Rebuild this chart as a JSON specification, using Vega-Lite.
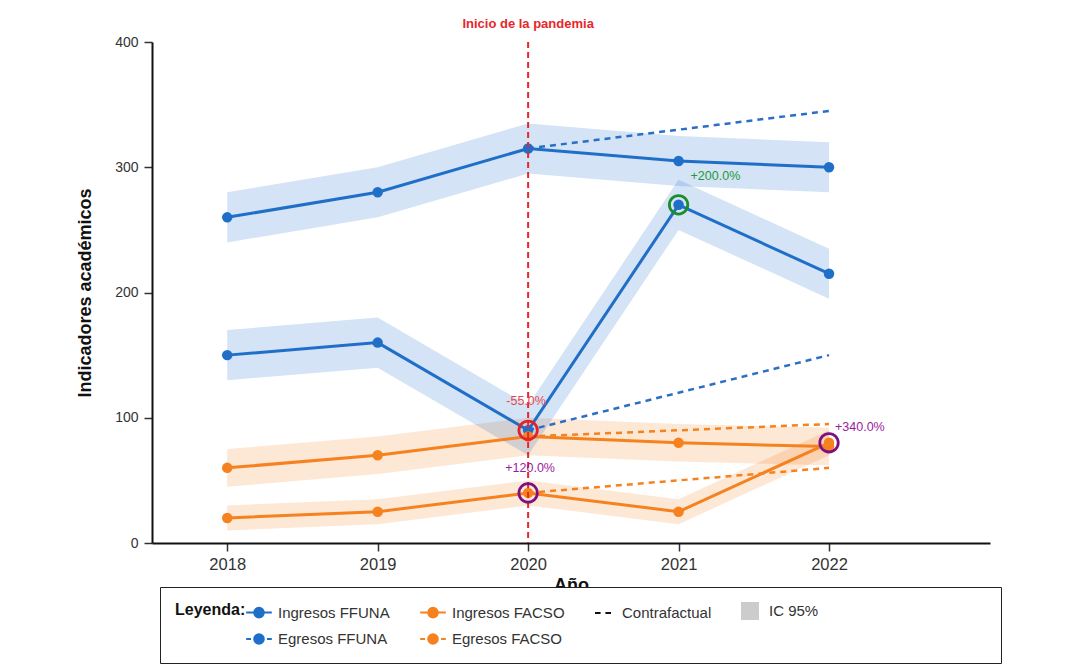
{
  "$schema": "https://vega.github.io/schema/vega-lite/v6.json",
  "width": 838,
  "height": 501,
  "autosize": {"type": "none"},
  "padding": {"left": 152, "top": 42, "right": 96, "bottom": 126},
  "background": "white",
  "config": {
    "font": "Liberation Sans",
    "view": {"stroke": null},
    "axis": {
      "domainColor": "#111",
      "domainWidth": 2,
      "tickColor": "#333",
      "tickWidth": 1.5,
      "tickSize": 8,
      "labelFontSize": 15,
      "labelColor": "#333",
      "titleFontSize": 18,
      "titleFontWeight": "bold",
      "titleColor": "#111",
      "grid": false
    }
  },
  "datasets": {
    "obs": [
      {"anio": 2018, "serie": "Ingresos FFUNA", "grupo": "FFUNA", "valor": 260, "lo": 240, "hi": 280},
      {"anio": 2019, "serie": "Ingresos FFUNA", "grupo": "FFUNA", "valor": 280, "lo": 260, "hi": 300},
      {"anio": 2020, "serie": "Ingresos FFUNA", "grupo": "FFUNA", "valor": 315, "lo": 295, "hi": 335},
      {"anio": 2021, "serie": "Ingresos FFUNA", "grupo": "FFUNA", "valor": 305, "lo": 285, "hi": 325},
      {"anio": 2022, "serie": "Ingresos FFUNA", "grupo": "FFUNA", "valor": 300, "lo": 280, "hi": 320},
      {"anio": 2018, "serie": "Egresos FFUNA", "grupo": "FFUNA", "valor": 150, "lo": 130, "hi": 170},
      {"anio": 2019, "serie": "Egresos FFUNA", "grupo": "FFUNA", "valor": 160, "lo": 140, "hi": 180},
      {"anio": 2020, "serie": "Egresos FFUNA", "grupo": "FFUNA", "valor": 90, "lo": 70, "hi": 110},
      {"anio": 2021, "serie": "Egresos FFUNA", "grupo": "FFUNA", "valor": 270, "lo": 250, "hi": 290},
      {"anio": 2022, "serie": "Egresos FFUNA", "grupo": "FFUNA", "valor": 215, "lo": 195, "hi": 235},
      {"anio": 2018, "serie": "Ingresos FACSO", "grupo": "FACSO", "valor": 60, "lo": 45, "hi": 75},
      {"anio": 2019, "serie": "Ingresos FACSO", "grupo": "FACSO", "valor": 70, "lo": 55, "hi": 85},
      {"anio": 2020, "serie": "Ingresos FACSO", "grupo": "FACSO", "valor": 85, "lo": 70, "hi": 100},
      {"anio": 2021, "serie": "Ingresos FACSO", "grupo": "FACSO", "valor": 80, "lo": 65, "hi": 95},
      {"anio": 2022, "serie": "Ingresos FACSO", "grupo": "FACSO", "valor": 77, "lo": 62, "hi": 92},
      {"anio": 2018, "serie": "Egresos FACSO", "grupo": "FACSO", "valor": 20, "lo": 10, "hi": 30},
      {"anio": 2019, "serie": "Egresos FACSO", "grupo": "FACSO", "valor": 25, "lo": 15, "hi": 35},
      {"anio": 2020, "serie": "Egresos FACSO", "grupo": "FACSO", "valor": 40, "lo": 30, "hi": 50},
      {"anio": 2021, "serie": "Egresos FACSO", "grupo": "FACSO", "valor": 25, "lo": 15, "hi": 35},
      {"anio": 2022, "serie": "Egresos FACSO", "grupo": "FACSO", "valor": 80, "lo": 70, "hi": 90}
    ],
    "cf": [
      {"anio": 2020, "serie": "Ingresos FFUNA", "grupo": "FFUNA", "valor": 315},
      {"anio": 2021, "serie": "Ingresos FFUNA", "grupo": "FFUNA", "valor": 330},
      {"anio": 2022, "serie": "Ingresos FFUNA", "grupo": "FFUNA", "valor": 345},
      {"anio": 2020, "serie": "Egresos FFUNA", "grupo": "FFUNA", "valor": 90},
      {"anio": 2021, "serie": "Egresos FFUNA", "grupo": "FFUNA", "valor": 120},
      {"anio": 2022, "serie": "Egresos FFUNA", "grupo": "FFUNA", "valor": 150},
      {"anio": 2020, "serie": "Ingresos FACSO", "grupo": "FACSO", "valor": 85},
      {"anio": 2021, "serie": "Ingresos FACSO", "grupo": "FACSO", "valor": 90},
      {"anio": 2022, "serie": "Ingresos FACSO", "grupo": "FACSO", "valor": 95},
      {"anio": 2020, "serie": "Egresos FACSO", "grupo": "FACSO", "valor": 40},
      {"anio": 2021, "serie": "Egresos FACSO", "grupo": "FACSO", "valor": 50},
      {"anio": 2022, "serie": "Egresos FACSO", "grupo": "FACSO", "valor": 60}
    ],
    "anot": [
      {"anio": 2020, "valor": 90, "etiqueta": "-55.0%"},
      {"anio": 2020, "valor": 40, "etiqueta": "+120.0%"},
      {"anio": 2021, "valor": 270, "etiqueta": "+200.0%"},
      {"anio": 2022, "valor": 80, "etiqueta": "+340.0%"}
    ],
    "evento": [
      {"anio": 2020, "valor": 400, "texto": "Inicio de la pandemia"}
    ]
  },
  "layer": [
    {
      "data": {"name": "obs"},
      "transform": [{"filter": "datum.grupo === 'FACSO'"}],
      "mark": {"type": "area", "color": "#f5821f", "opacity": 0.19},
      "encoding": {
        "x": {"field": "anio", "type": "quantitative", "title": "Año", "scale": {"domain": [2017.5, 2023.07], "nice": false, "zero": false}, "axis": {"values": [2018, 2019, 2020, 2021, 2022], "format": "d", "labelFontSize": 16.5, "labelPadding": 5, "titlePadding": 4}},
        "y": {"field": "lo", "type": "quantitative", "title": "Indicadores académicos", "scale": {"domain": [0, 400], "nice": false}, "axis": {"values": [0, 100, 200, 300, 400], "labelFontSize": 14, "labelPadding": 6, "titlePadding": 20}},
        "y2": {"field": "hi"},
        "detail": {"field": "serie"}
      }
    },
    {
      "data": {"name": "obs"},
      "transform": [{"filter": "datum.grupo === 'FFUNA'"}],
      "mark": {"type": "area", "color": "#2a74cf", "opacity": 0.2},
      "encoding": {
        "x": {"field": "anio", "type": "quantitative", "title": "Año"},
        "y": {"field": "lo", "type": "quantitative", "title": "Indicadores académicos"},
        "y2": {"field": "hi"},
        "detail": {"field": "serie"}
      }
    },
    {
      "data": {"name": "cf"},
      "transform": [{"filter": "datum.grupo === 'FFUNA'"}],
      "mark": {"type": "line", "color": "#2a6fc6", "strokeWidth": 2.5, "strokeDash": [6, 5]},
      "encoding": {
        "x": {"field": "anio", "type": "quantitative", "title": "Año"},
        "y": {"field": "valor", "type": "quantitative", "title": "Indicadores académicos"},
        "detail": {"field": "serie"}
      }
    },
    {
      "data": {"name": "cf"},
      "transform": [{"filter": "datum.grupo === 'FACSO'"}],
      "mark": {"type": "line", "color": "#f5821f", "strokeWidth": 2.5, "strokeDash": [6, 5]},
      "encoding": {
        "x": {"field": "anio", "type": "quantitative", "title": "Año"},
        "y": {"field": "valor", "type": "quantitative", "title": "Indicadores académicos"},
        "detail": {"field": "serie"}
      }
    },
    {
      "data": {"name": "obs"},
      "transform": [{"filter": "datum.grupo === 'FFUNA'"}],
      "mark": {"type": "line", "color": "#1f6fc9", "strokeWidth": 3, "point": {"filled": true, "size": 110, "color": "#1f6fc9"}},
      "encoding": {
        "x": {"field": "anio", "type": "quantitative", "title": "Año"},
        "y": {"field": "valor", "type": "quantitative", "title": "Indicadores académicos"},
        "detail": {"field": "serie"}
      }
    },
    {
      "data": {"name": "obs"},
      "transform": [{"filter": "datum.grupo === 'FACSO'"}],
      "mark": {"type": "line", "color": "#f5821f", "strokeWidth": 3, "point": {"filled": true, "size": 110, "color": "#f5821f"}},
      "encoding": {
        "x": {"field": "anio", "type": "quantitative", "title": "Año"},
        "y": {"field": "valor", "type": "quantitative", "title": "Indicadores académicos"},
        "detail": {"field": "serie"}
      }
    },
    {
      "data": {"name": "evento"},
      "mark": {"type": "rule", "color": "#e8262b", "strokeWidth": 2, "strokeDash": [6, 4]},
      "encoding": {
        "x": {"field": "anio", "type": "quantitative", "title": "Año"}
      }
    },
    {
      "data": {"name": "evento"},
      "mark": {"type": "text", "color": "#e8262b", "fontSize": 13, "fontWeight": "bold", "dy": -18, "baseline": "middle"},
      "encoding": {
        "x": {"field": "anio", "type": "quantitative", "title": "Año"},
        "y": {"field": "valor", "type": "quantitative", "title": "Indicadores académicos"},
        "text": {"field": "texto"}
      }
    },
    {
      "data": {"name": "anot"},
      "mark": {"type": "point", "filled": false, "size": 340, "strokeWidth": 2.8, "opacity": 1},
      "encoding": {
        "x": {"field": "anio", "type": "quantitative", "title": "Año"},
        "y": {"field": "valor", "type": "quantitative", "title": "Indicadores académicos"},
        "color": {"field": "etiqueta", "type": "nominal", "legend": null, "scale": {"domain": ["-55.0%", "+120.0%", "+200.0%", "+340.0%"], "range": ["#e0232b", "#7e0f82", "#1b8d2a", "#7e0f82"]}}
      }
    },
    {
      "data": {"name": "anot"},
      "transform": [{"filter": "datum.etiqueta === '-55.0%'"}],
      "mark": {"type": "text", "fontSize": 12.5, "dy": -29, "dx": -2, "align": "center", "baseline": "middle", "color": "#e5484d"},
      "encoding": {
        "x": {"field": "anio", "type": "quantitative", "title": "Año"},
        "y": {"field": "valor", "type": "quantitative", "title": "Indicadores académicos"},
        "text": {"field": "etiqueta"}
      }
    },
    {
      "data": {"name": "anot"},
      "transform": [{"filter": "datum.etiqueta === '+120.0%'"}],
      "mark": {"type": "text", "fontSize": 12.5, "dy": -25, "dx": 2, "align": "center", "baseline": "middle", "color": "#9b1b9e"},
      "encoding": {
        "x": {"field": "anio", "type": "quantitative", "title": "Año"},
        "y": {"field": "valor", "type": "quantitative", "title": "Indicadores académicos"},
        "text": {"field": "etiqueta"}
      }
    },
    {
      "data": {"name": "anot"},
      "transform": [{"filter": "datum.etiqueta === '+200.0%'"}],
      "mark": {"type": "text", "fontSize": 12.5, "dy": -29, "dx": 12, "align": "left", "baseline": "middle", "color": "#1d9a3a"},
      "encoding": {
        "x": {"field": "anio", "type": "quantitative", "title": "Año"},
        "y": {"field": "valor", "type": "quantitative", "title": "Indicadores académicos"},
        "text": {"field": "etiqueta"}
      }
    },
    {
      "data": {"name": "anot"},
      "transform": [{"filter": "datum.etiqueta === '+340.0%'"}],
      "mark": {"type": "text", "fontSize": 12.5, "dy": -16, "dx": 6, "align": "left", "baseline": "middle", "color": "#9b1b9e"},
      "encoding": {
        "x": {"field": "anio", "type": "quantitative", "title": "Año"},
        "y": {"field": "valor", "type": "quantitative", "title": "Indicadores académicos"},
        "text": {"field": "etiqueta"}
      }
    },
    {
      "data": {"values": []},
      "mark": {"type": "point", "filled": true, "opacity": 1},
      "encoding": {
        "fill": {
          "field": "leyenda", "type": "nominal",
          "scale": {
            "domain": ["Ingresos FFUNA", "Ingresos FACSO", "Contrafactual", "IC 95%", "Egresos FFUNA", "Egresos FACSO", "_a", "_b"],
            "range": ["#1f6fc9", "#f5821f", "#111111", "#cccccc", "#1f6fc9", "#f5821f", "#ffffff", "#ffffff"]
          },
          "legend": {
            "title": "Leyenda:",
            "orient": "none",
            "legendX": 8,
            "legendY": 545,
            "direction": "horizontal",
            "columns": 4,
            "titleOrient": "left",
            "titleAnchor": "start",
            "titleFontSize": 16,
            "titleFontWeight": "bold",
            "titleColor": "#111",
            "titlePadding": 4,
            "labelFontSize": 15,
            "labelColor": "#333",
            "labelLimit": 600,
            "labelOffset": 10,
            "labelExpr": "datum.value === '_a' ? '' : datum.value === '_b' ? '__________________________' : datum.label",
            "symbolSize": 256,
            "symbolStrokeWidth": 2,
            "symbolOpacity": 1,
            "strokeColor": "#222",
            "fillColor": "white",
            "padding": 15,
            "rowPadding": 7,
            "columnPadding": 26,
            "gridAlign": "each",
            "encode": {
              "labels": {"update": {"opacity": {"signal": "datum.value === '_b' ? 0 : 1"}}}
            }
          }
        },
        "stroke": {
          "field": "leyenda", "type": "nominal",
          "scale": {
            "domain": ["Ingresos FFUNA", "Ingresos FACSO", "Contrafactual", "IC 95%", "Egresos FFUNA", "Egresos FACSO", "_a", "_b"],
            "range": ["#1f6fc9", "#f5821f", "#111111", "#cccccc", "#1f6fc9", "#f5821f", "#ffffff", "#ffffff"]
          },
          "legend": {"title": "Leyenda:"}
        },
        "shape": {
          "field": "leyenda", "type": "nominal",
          "scale": {
            "domain": ["Ingresos FFUNA", "Ingresos FACSO", "Contrafactual", "IC 95%", "Egresos FFUNA", "Egresos FACSO", "_a", "_b"],
            "range": [
              "M-1.6,0L1.6,0M-0.6,0A0.6,0.6,0,1,0,0.6,0A0.6,0.6,0,1,0,-0.6,0Z",
              "M-1.6,0L1.6,0M-0.6,0A0.6,0.6,0,1,0,0.6,0A0.6,0.6,0,1,0,-0.6,0Z",
              "M-1,0L-0.3,0M0.3,0L1,0",
              "M-1,-1L1,-1L1,1L-1,1Z",
              "M-1.6,0L-1,0M1,0L1.6,0M-0.6,0A0.6,0.6,0,1,0,0.6,0A0.6,0.6,0,1,0,-0.6,0Z",
              "M-1.6,0L-1,0M1,0L1.6,0M-0.6,0A0.6,0.6,0,1,0,0.6,0A0.6,0.6,0,1,0,-0.6,0Z",
              "M0,0",
              "M0,0"
            ]
          },
          "legend": {"title": "Leyenda:"}
        }
      }
    }
  ]
}
